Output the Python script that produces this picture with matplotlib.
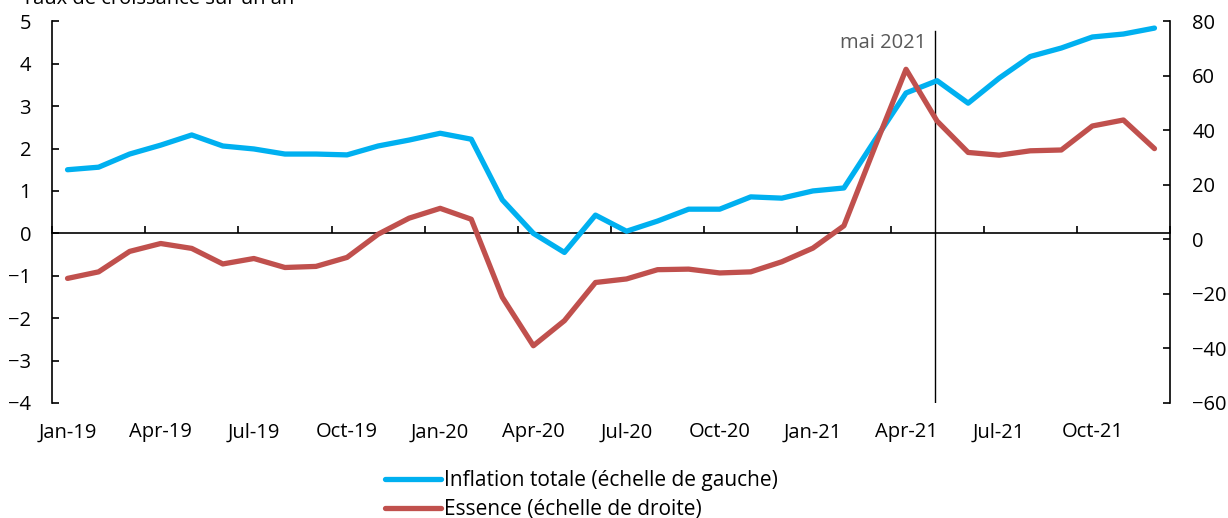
import numpy as np
import matplotlib
matplotlib.use('Agg')
from matplotlib import pyplot as plt

plt.rcParams['font.family'] = ['Open Sans', 'DejaVu Sans']

################### data
mois = ['Jan-19', 'Feb-19', 'Mar-19', 'Apr-19', 'May-19', 'Jun-19', 'Jul-19', 'Aug-19', 'Sep-19',
        'Oct-19', 'Nov-19', 'Dec-19', 'Jan-20', 'Feb-20', 'Mar-20', 'Apr-20', 'May-20', 'Jun-20',
        'Jul-20', 'Aug-20', 'Sep-20', 'Oct-20', 'Nov-20', 'Dec-20', 'Jan-21', 'Feb-21', 'Mar-21',
        'Apr-21', 'May-21', 'Jun-21', 'Jul-21', 'Aug-21', 'Sep-21', 'Oct-21', 'Nov-21', 'Dec-21']
# inflation totale (echelle de gauche)
inflation = [1.5, 1.56, 1.87, 2.08, 2.32, 2.06, 1.99, 1.87, 1.87, 1.85, 2.06, 2.2,
             2.36, 2.22, 0.79, 0.0, -0.45, 0.43, 0.05, 0.29, 0.57, 0.57, 0.86, 0.83,
             1.0, 1.07, 2.2, 3.31, 3.6, 3.07, 3.66, 4.17, 4.37, 4.63, 4.7, 4.84]
# essence (echelle de droite)
essence = [-14.3, -11.9, -4.4, -1.5, -3.3, -9.0, -7.0, -10.3, -9.9, -6.6, 1.9, 7.8,
           11.4, 7.4, -21.2, -39.0, -29.8, -15.8, -14.5, -11.1, -10.9, -12.3, -11.9, -8.2,
           -3.2, 5.0, 34.0, 62.4, 43.4, 31.9, 30.9, 32.5, 32.8, 41.6, 43.8, 33.3]
gauche_ticks = [-4, -3, -2, -1, 0, 1, 2, 3, 4, 5]
droite_ticks = [-60, -40, -20, 0, 20, 40, 60, 80]
mois_repere = 'May-21'

bleu = '#00B0F0'
rouge = '#C0504D'
fs = 14.5
x = np.arange(len(mois))

#################### figure
fig = plt.figure(figsize=(12.28, 5.18), dpi=100)
ax = fig.add_axes([52/1228, 1-403/518, (1170-52)/1228, (403-21.3)/518])
ax2 = ax.twinx()

l1, = ax.plot(x, inflation, color=bleu, lw=3.8, solid_capstyle='round', solid_joinstyle='round', zorder=3)
l2, = ax2.plot(x, essence, color=rouge, lw=3.8, solid_capstyle='round', solid_joinstyle='round', zorder=3)

ax.set_xlim(-0.5, len(mois)-0.5)
ax.set_ylim(-4, 5)
ax2.set_ylim(-60, 80)
ax.set_yticks(gauche_ticks)
ax2.set_yticks(droite_ticks)

# axe des x sur le zero, traits entre categories
for s in ['top', 'right']:
    ax.spines[s].set_visible(False)
for s in ['top', 'left', 'bottom']:
    ax2.spines[s].set_visible(False)
ax.spines['bottom'].set_position(('data', 0))
ax.spines['bottom'].set_linewidth(1.2)
ax.spines['left'].set_linewidth(1.2)
ax2.spines['right'].set_linewidth(1.2)
ax.set_xticks(np.arange(-0.5, len(mois), 3))
ax.set_xticklabels([])
ax.tick_params(axis='x', direction='in', length=5, width=1.2)
ax.tick_params(axis='y', direction='in', length=5, width=1.2, pad=15, labelsize=fs)
ax2.tick_params(axis='y', direction='in', length=5, width=1.2, pad=16, labelsize=fs)

sec = ax.secondary_xaxis('bottom')
sec.set_xticks(x[::3])
sec.set_xticklabels(mois[::3])
sec.tick_params(length=0, pad=14, labelsize=fs)
sec.spines['bottom'].set_visible(False)

# repere mai 2021
i_rep = mois.index(mois_repere)
ax.plot([i_rep - 0.08, i_rep - 0.08], [-4, 4.78], color='black', lw=1, zorder=2)
ax.text(i_rep - 0.35, 4.5, 'mai 2021', ha='right', va='center', fontsize=fs, color='#595959')

fig.text(22/1228, 1-4/518, 'Taux de croissance sur un an', ha='left', va='baseline', fontsize=fs)

fig.legend([l1, l2], ['Inflation totale (échelle de gauche)', 'Essence (échelle de droite)'],
           loc='upper left', bbox_to_anchor=(385/1228, 1-470/518), frameon=False, fontsize=15,
           handlelength=2.7, handletextpad=0.15, labelspacing=0.4, borderpad=0, borderaxespad=0)

fig.savefig('out.png', dpi=100)
